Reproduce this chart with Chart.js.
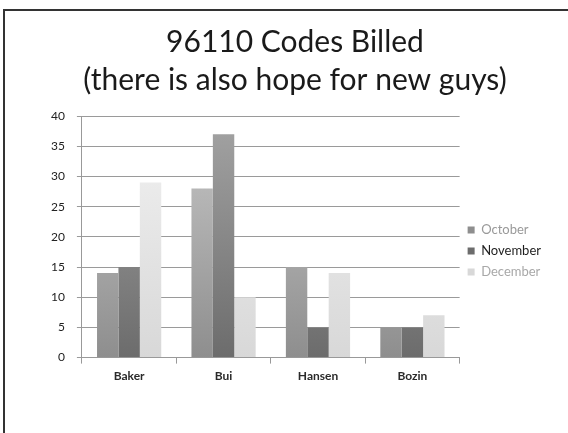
<!DOCTYPE html>
<html>
<head>
<meta charset="utf-8">
<script src="https://cdn.jsdelivr.net/npm/chart.js@4/dist/chart.umd.min.js"></script>
<style>
  html, body { margin: 0; padding: 0; background: #fff; }
  #wrap { position: relative; width: 568px; height: 433px; overflow: hidden; }
  #frame { position: absolute; left: 3px; top: 9px; width: 600px; height: 500px;
           border-left: 2px solid #333; border-top: 2px solid #333; }
  canvas { position: absolute; left: 0; top: 0; }
</style>
</head>
<body>
<div id="wrap">
  <div id="frame"></div>
  <canvas id="chart" width="568" height="433"></canvas>
</div>
<script>
var categories = ['Baker', 'Bui', 'Hansen', 'Bozin'];
var october = [14, 28, 15, 5];
var november = [15, 37, 5, 5];
var december = [29, 10, 14, 7];
var seriesNames = ['October', 'November', 'December'];
var yTicks = [0, 5, 10, 15, 20, 25, 30, 35, 40];

// top colour / bottom colour for each series gradient
var shades = [
    ['#c8c8c8', '#8e8e8e'],
    ['#a4a4a4', '#6c6c6c'],
    ['#f2f2f2', '#d8d8d8']
];
var legendText = ['#999999', '#1e1e1e', '#a8a8a8'];

function barFill(i) {
    return function(context) {
        var area = context.chart.chartArea;
        if (!area) return shades[i][1];
        var g = context.chart.ctx.createLinearGradient(0, area.top, 0, area.bottom);
        g.addColorStop(0, shades[i][0]);
        g.addColorStop(1, shades[i][1]);
        return g;
    };
}

var ctx = document.getElementById('chart').getContext('2d');
var myChart = new Chart(ctx, {
    type: 'bar',
    data: {
        labels: categories,
        datasets: [october, november, december].map(function(values, i) {
            return {
                label: seriesNames[i],
                data: values,
                backgroundColor: barFill(i),
                borderWidth: 0,
                categoryPercentage: 0.68,
                barPercentage: 1
            };
        })
    },
    options: {
        responsive: false,
        animation: false,
        layout: { padding: { left: 39, right: 17, top: 6, bottom: 45 } },
        plugins: {
            title: {
                display: true,
                text: ['96110 Codes Billed', '(there is also hope for new guys)'],
                font: { family: 'Lato', size: 30, weight: 'normal', lineHeight: 1.27 },
                color: '#1a1a1a',
                padding: { top: 17, bottom: 17 }
            },
            legend: {
                position: 'right',
                title: { display: true, text: ' ', font: { size: 10 }, padding: { top: 96, bottom: 0 } },
                labels: {
                    boxWidth: 7,
                    boxHeight: 7,
                    padding: 8,
                    font: { family: 'Lato', size: 13 },
                    generateLabels: function(chart) {
                        return seriesNames.map(function(name, i) {
                            return {
                                text: name,
                                fillStyle: shades[i][1],
                                strokeStyle: shades[i][1],
                                lineWidth: 0,
                                fontColor: legendText[i],
                                datasetIndex: i
                            };
                        });
                    }
                }
            },
            tooltip: { enabled: false }
        },
        scales: {
            x: {
                grid: { drawOnChartArea: false, drawTicks: true, tickLength: 6, color: '#999' },
                border: { color: '#999' },
                ticks: { color: '#2a2a2a', font: { family: 'Lato', size: 12, weight: 'bold' }, padding: 5 }
            },
            y: {
                min: 0,
                max: 40,
                afterBuildTicks: function(axis) {
                    axis.ticks = yTicks.map(function(v) { return { value: v }; });
                },
                grid: { color: '#9a9a9a', tickLength: 5 },
                border: { color: '#999' },
                ticks: { color: '#222', font: { family: 'Lato', size: 12 }, padding: 12 }
            }
        }
    }
});
</script>
</body>
</html>
